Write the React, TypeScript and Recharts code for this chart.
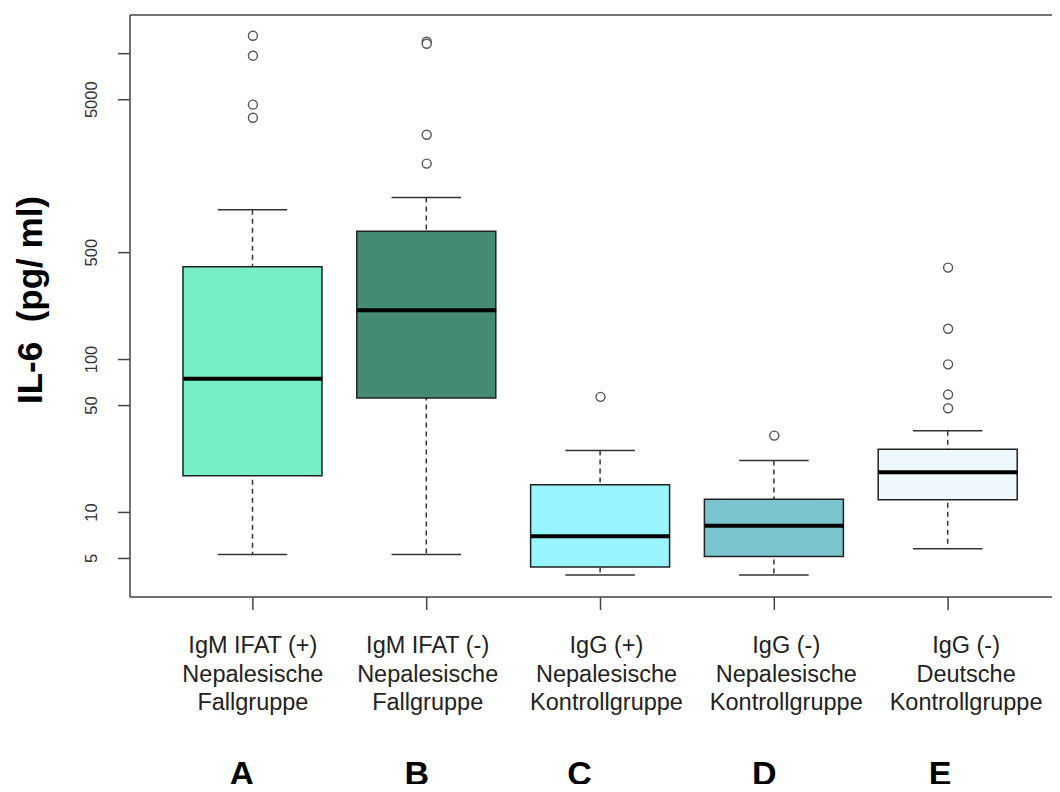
import React from 'react';
import { ComposedChart, Bar, Scatter, XAxis, YAxis, Cell } from 'recharts';

// groups A-E, five-number summaries
const groups = ['A', 'B', 'C', 'D', 'E'];
const groupLabels = [
  ['IgM IFAT (+)', 'Nepalesische', 'Fallgruppe'],
  ['IgM IFAT (-)', 'Nepalesische', 'Fallgruppe'],
  ['IgG (+)', 'Nepalesische', 'Kontrollgruppe'],
  ['IgG (-)', 'Nepalesische', 'Kontrollgruppe'],
  ['IgG (-)', 'Deutsche', 'Kontrollgruppe'],
];
const lowerWhisker = [5.3, 5.3, 3.9, 3.9, 5.8];
const q1 = [17.4, 56, 4.4, 5.15, 12.1];
const median = [75, 210, 7.0, 8.2, 18.3];
const q3 = [405, 691, 15.2, 12.2, 25.9];
const upperWhisker = [955, 1148, 25.4, 21.9, 34.2];
const outliers = [
  [13100, 9700, 4640, 3810],
  [11970, 11600, 2950, 1910],
  [57],
  [31.8],
  [399, 159, 93, 59, 48],
];
const boxColors = ['#76EEC6', '#458B74', '#98F5FF', '#7AC5CD', '#F0F8FF'];
const yTicks = [5, 10, 50, 100, 500, 5000, 10000];
const yLabelled = [5, 10, 50, 100, 500, 5000];

// the text under the axis was placed by hand in the original figure
const labelShift = [0, 1, 6, 12, 18];
const letterShift = [-11, -10, -21, -10, -8];

const data = groups.map((name, i) => ({
  name,
  whisker: [lowerWhisker[i], upperWhisker[i]],
  box: [q1[i], q3[i]],
  median: median[i],
}));

const outlierData = groups.flatMap((name, i) => outliers[i].map((v) => ({ name, v })));

const FONT = '"Liberation Sans", Arial, sans-serif';
const xPad = { left: 36, right: 35 };

const WhiskerShape = (props: any) => {
  const { x, y, width, height } = props;
  const cx = x + width / 2;
  const cap = width * 0.25;
  return (
    <g>
      <line x1={cx} x2={cx} y1={y} y2={y + height} stroke="#333" strokeWidth={1.5} strokeDasharray="5 4" />
      <line x1={cx - cap} x2={cx + cap} y1={y} y2={y} stroke="#333" strokeWidth={1.5} />
      <line x1={cx - cap} x2={cx + cap} y1={y + height} y2={y + height} stroke="#333" strokeWidth={1.5} />
    </g>
  );
};

const MedianShape = (props: any) => {
  const { cx, cy } = props;
  return <line x1={cx - 69.5} x2={cx + 69.5} y1={cy} y2={cy} stroke="#000" strokeWidth={4} />;
};

const OutlierShape = (props: any) => {
  const { cx, cy } = props;
  return <circle cx={cx} cy={cy} r={4.5} fill="#fff" stroke="#555" strokeWidth={1.4} />;
};

const YTick = (props: any) => {
  const { x, y, payload } = props;
  if (!yLabelled.includes(payload.value)) return null;
  const tx = x - 25;
  return (
    <text
      x={tx}
      y={y}
      transform={`rotate(-90 ${tx} ${y})`}
      textAnchor="middle"
      dominantBaseline="central"
      fontSize={16.5}
      fontFamily={FONT}
      fill="#333"
    >
      {payload.value}
    </text>
  );
};

const XTick = (props: any) => {
  const { x, y, payload } = props;
  const i = groups.indexOf(payload.value);
  const lines = groupLabels[i] || [];
  return (
    <g fontFamily={FONT}>
      {lines.map((t, k) => (
        <text key={k} x={x + labelShift[i]} y={y + 41 + k * 28.5} textAnchor="middle" fontSize={23.5} fill="#222">
          {t}
        </text>
      ))}
      <text x={x + letterShift[i]} y={y + 173} textAnchor="middle" fontSize={34} fontWeight="bold" fill="#000">
        {payload.value}
      </text>
    </g>
  );
};

export default function App() {
  return (
    <div style={{ margin: -8, width: 1060, height: 792, overflow: 'hidden', background: '#fff' }}>
      <ComposedChart
        width={1070}
        height={792}
        data={data}
        margin={{ top: 14, right: 0, left: 0, bottom: 0 }}
        style={{ fontFamily: FONT }}
      >
        <XAxis
          dataKey="name"
          allowDuplicatedCategory={false}
          padding={xPad}
          height={195}
          tickSize={13}
          tick={<XTick />}
          axisLine={{ stroke: '#444', strokeWidth: 1.5 }}
          tickLine={{ stroke: '#444', strokeWidth: 1.5 }}
        />
        <XAxis xAxisId="w" dataKey="name" allowDuplicatedCategory={false} padding={xPad} hide />
        <XAxis
          xAxisId="top"
          orientation="top"
          dataKey="name"
          height={1}
          tick={false}
          tickLine={false}
          axisLine={{ stroke: '#444', strokeWidth: 1.5 }}
        />
        <YAxis
          scale="log"
          domain={[2.8, 17900]}
          allowDataOverflow
          ticks={yTicks}
          width={130}
          tickSize={12}
          tick={<YTick />}
          axisLine={{ stroke: '#444', strokeWidth: 1.5 }}
          tickLine={{ stroke: '#444', strokeWidth: 1.5 }}
          label={{
            value: 'IL-6\u00a0\u00a0(pg/ ml)',
            angle: -90,
            position: 'center',
            dx: -35,
            dy: -6,
            style: { fontSize: 35, fontWeight: 'bold', fill: '#000', fontFamily: FONT },
          }}
        />
        <Bar xAxisId="w" dataKey="whisker" barSize={139} shape={<WhiskerShape />} isAnimationActive={false} />
        <Bar dataKey="box" barSize={139} stroke="#222" strokeWidth={1.5} isAnimationActive={false}>
          {data.map((d, i) => (
            <Cell key={d.name} fill={boxColors[i]} />
          ))}
        </Bar>
        <Scatter dataKey="median" shape={<MedianShape />} isAnimationActive={false} />
        <Scatter data={outlierData} dataKey="v" shape={<OutlierShape />} isAnimationActive={false} />
      </ComposedChart>
    </div>
  );
}
